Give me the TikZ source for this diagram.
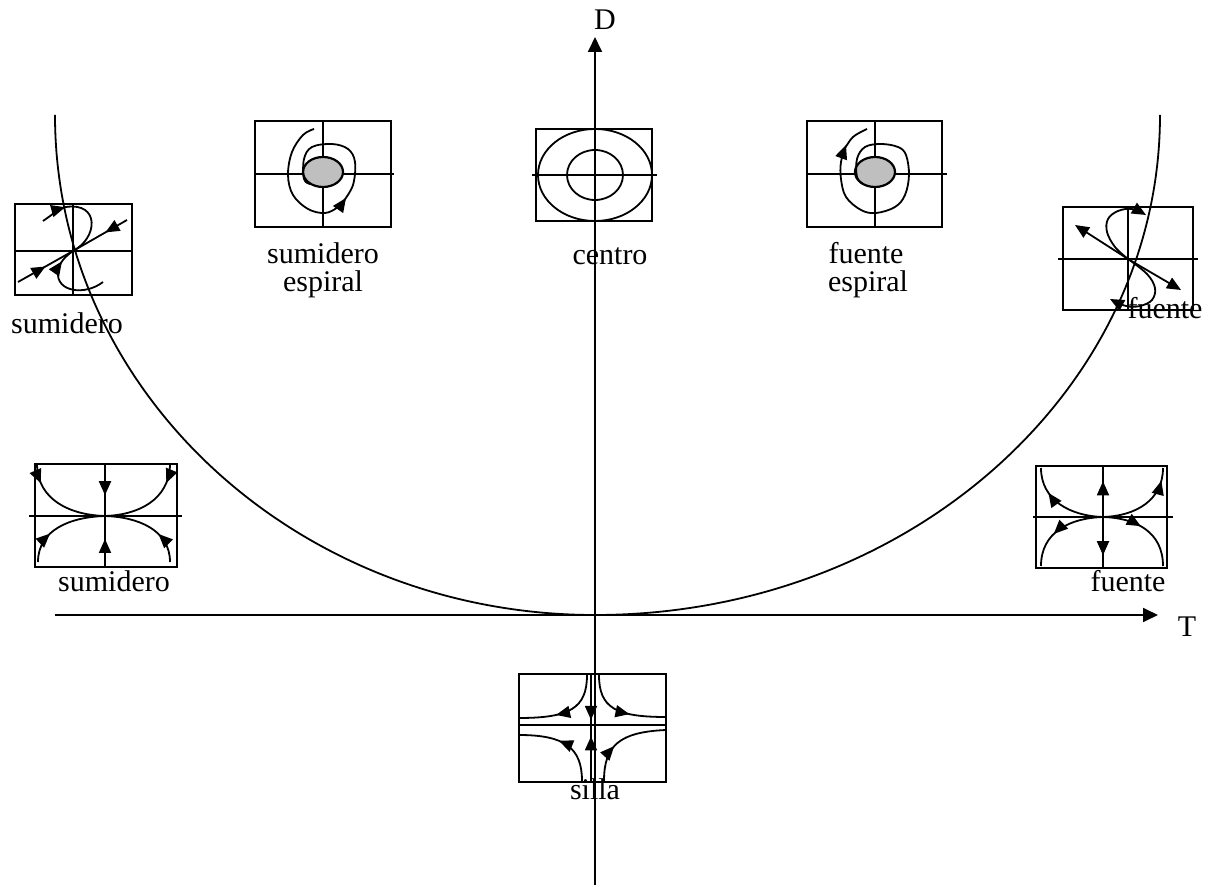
\documentclass[tikz,border=0pt]{standalone}
\usepackage{fontspec}
\setmainfont{Liberation Serif}
\usetikzlibrary{arrows.meta,decorations.markings}
\tikzset{
  smalltip/.tip={Triangle[length=7pt,width=6pt]},
  bigtip/.tip={Triangle[length=7.5pt,width=7pt]},
  midarr/.style={postaction={decorate},decoration={markings,mark=at position #1 with {\arrow{smalltip}}}},
  lbl/.style={anchor=base,inner sep=0pt},
  blob/.style={fill=black!25,draw,line width=1.1pt},
}
\begin{document}
\begin{tikzpicture}[x=0.5pt,y=-0.5pt,line width=0.9pt,font=\fontsize{15}{18}\selectfont]
\useasboundingbox (0,0) rectangle (1223,887);

% axes
\coordinate (Ybot) at (595,885);
\coordinate (Ytop) at (595,37);
\coordinate (Xl) at (55,615);
\coordinate (Xr) at (1158,615);
\draw[-bigtip] (Ybot) -- (Ytop);
\draw[-bigtip] (Xl) -- (Xr);
\node[lbl] (D) at (605,30) {D};
\node[lbl] (T) at (1187,637) {T};

% boundary curve
\coordinate (Cl) at (55,115);
\draw (Cl) arc[start angle=180,end angle=90,x radius=540,y radius=500]
           arc[start angle=90,end angle=0,x radius=565,y radius=500];

% box 1: sumidero (node)
\draw (15,204) rectangle (132,295);
\draw (73,204) -- (73,295);
\draw (15,251) -- (132,251);
\coordinate (c1) at (73,251);
\coordinate (c1a) at (18,282);
\coordinate (c1b) at (127,220);
\draw[midarr=0.5] (c1a) -- (c1);
\draw[midarr=0.4] (c1b) -- (c1);
\draw[midarr=0.27] (43,221) .. controls (52,215) and (58,209) .. (66,207) .. controls (100,202) and (98,238) .. (c1);
\draw[midarr=0.82] (103,282) .. controls (85,296) and (56,292) .. (58,272) .. controls (59,262) and (66,256) .. (c1);
\node[lbl] (l1) at (67,334) {sumidero};

% box 2: sumidero espiral
\draw (255,121) rectangle (391,227);
\draw (323,121) -- (323,227);
\draw (255,174) -- (394,174);
\draw[blob] (323,172) ellipse[x radius=20,y radius=15];
\draw[-smalltip] plot[smooth,tension=0.6] coordinates {(314,129) (303,135) (292,152) (288,175) (293,195) (308,209) (325,213) (338,207) (346,198)};
\draw plot[smooth,tension=0.6] coordinates {(343,202) (353,185) (355,162) (348,149) (332,144) (312,147) (304,159) (304,179) (310,184)};
\node[lbl] (l2a) at (323,264) {sumidero};
\node[lbl] (l2b) at (323,292) {espiral};

% box 3: centro
\draw (536,129) rectangle (652,221);
\draw (532,175) -- (657,175);
\draw (595,175) ellipse[x radius=57,y radius=46];
\draw (595,175) ellipse[x radius=28,y radius=25];
\node[lbl] (l3) at (610,265) {centro};

% box 4: fuente espiral
\draw (807,121) rectangle (942,227);
\draw (875,121) -- (875,227);
\draw (807,174) -- (947,174);
\draw[blob] (875,172) ellipse[x radius=20,y radius=15];
\draw[-smalltip] plot[smooth,tension=0.6] coordinates {(863,184) (857,177) (857,159) (865,147) (881,144) (898,147) (906,155) (909,175) (905,195) (895,207) (876,213) (861,210) (846,197) (841,179) (841,162) (846,145)};
\draw plot[smooth,tension=0.6] coordinates {(844,150) (853,137) (867,129)};
\node[lbl] (l4a) at (866,264) {fuente};
\node[lbl] (l4b) at (868,292) {espiral};

% box 5: fuente (node)
\draw (1063,207) rectangle (1193,310);
\draw (1128,207) -- (1128,310);
\draw (1058,259) -- (1198,259);
\coordinate (c5) at (1128,259);
\coordinate (c5a) at (1075,225);
\coordinate (c5b) at (1181,290);
\draw[-smalltip] (c5) -- (c5a);
\draw[-smalltip] (c5) -- (c5b);
\draw[-smalltip] plot[smooth,tension=0.6] coordinates {(1128,259) (1115,247) (1107,232) (1108,219) (1118,211) (1132,209) (1146,215)};
\draw[-smalltip] plot[smooth,tension=0.6] coordinates {(1128,259) (1147,274) (1155,288) (1152,300) (1140,306) (1126,306) (1110,299)};
\node[lbl] (l5) at (1165,319) {fuente};

% box 6: sumidero (lower)
\draw (35,464) rectangle (177,567);
\draw (29,516) -- (182,516);
\coordinate (c6) at (105,516);
\coordinate (c6t) at (105,464);
\coordinate (c6b) at (105,567);
\draw[midarr=0.6] (c6t) -- (c6);
\draw[midarr=0.55] (c6b) -- (c6);
\draw[midarr=0.2] (37,465) .. controls (38,500) and (70,515) .. (c6);
\draw[midarr=0.2] (170,465) .. controls (169,500) and (138,515) .. (c6);
\draw[midarr=0.35] (38,562) .. controls (38,530) and (70,517) .. (c6);
\draw[midarr=0.35] (170,562) .. controls (170,530) and (138,517) .. (c6);
\node[lbl] (l6) at (114,592) {sumidero};

% box 7: fuente (lower)
\draw (1036,466) rectangle (1167,568);
\draw (1033,517) -- (1173,517);
\coordinate (c7) at (1103,517);
\coordinate (c7t) at (1103,466);
\coordinate (c7b) at (1103,568);
\draw[midarr=0.7] (c7) -- (c7t);
\draw[midarr=0.75] (c7) -- (c7b);
\draw[midarr=0.7] (c7) .. controls (1070,516) and (1041,500) .. (1041,468);
\draw[midarr=0.85] (c7) .. controls (1136,516) and (1163,500) .. (1163,468);
\draw[midarr=0.6] (c7) .. controls (1070,518) and (1041,532) .. (1041,566);
\draw[midarr=0.45] (c7) .. controls (1136,518) and (1163,532) .. (1163,566);
\node[lbl] (l7) at (1128,592) {fuente};

% box 8: silla
\draw (519,674) rectangle (666,782);
\draw (519,725) -- (666,725);
\coordinate (c8) at (591,725);
\coordinate (c8t) at (591,674);
\coordinate (c8b) at (591,782);
\draw[midarr=0.9] (c8t) -- (c8);
\draw[midarr=0.8] (c8b) -- (c8);
\draw[midarr=0.6] (587,675) .. controls (587,708) and (570,718) .. (519,718);
\draw[midarr=0.6] (599,675) .. controls (599,708) and (616,717) .. (666,717);
\draw[midarr=0.55] (582,781) .. controls (582,748) and (565,735) .. (519,735);
\draw[midarr=0.4] (604,781) .. controls (604,745) and (620,732) .. (666,730);
\node[lbl] (l8) at (595,800) {silla};
\end{tikzpicture}
\end{document}
